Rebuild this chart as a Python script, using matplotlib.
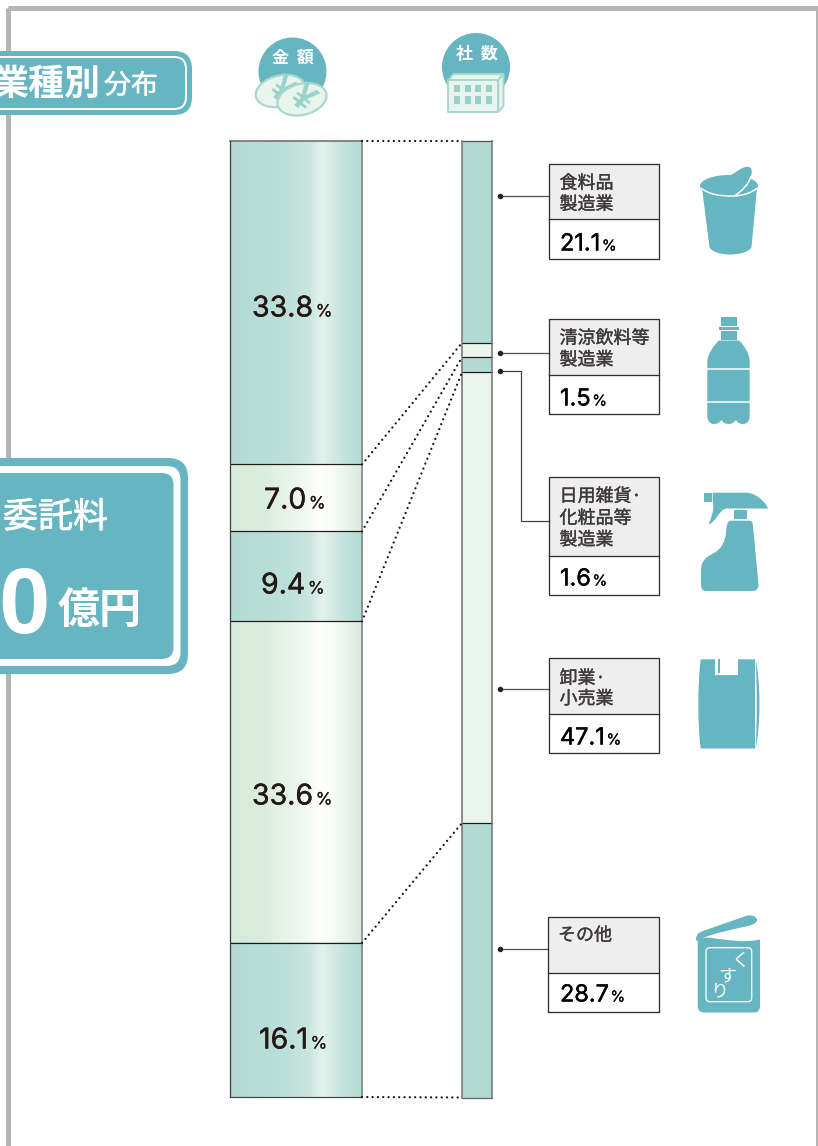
import matplotlib
matplotlib.use("Agg")
import matplotlib.pyplot as plt
import matplotlib.patheffects as pe
from matplotlib.colors import LinearSegmentedColormap
from matplotlib.patches import ConnectionPatch, Ellipse, FancyBboxPatch, PathPatch, Polygon, Rectangle
from matplotlib.path import Path
import numpy as np

# Share by amount (left column) and by number of companies (right column)
amount_shares = [33.8, 7.0, 9.4, 33.6, 16.1]
company_shares = [21.1, 1.5, 1.6, 47.1, 28.7]
categories = [["食料品", "製造業"], ["清涼飲料等", "製造業"], ["日用雑貨·", "化粧品等", "製造業"],
              ["卸業·", "小売業"], ["その他"]]

TEAL = "#67B5C1"
BAR_TEAL = "#B1DAD5"
BAR_PALE = "#EAF4EE"
COIN_EDGE = "#A5D8CE"
DARK = "#231815"
INK = "#3E3A39"
JP = "Noto Sans CJK JP"
LATIN = "Liberation Sans"
NUM = "Inter"
W, H = 818, 1146


def fs(px):
    return px * 72 / 100


fig = plt.figure(figsize=(W / 100, H / 100), dpi=100, facecolor="white")
bg = fig.add_axes([0, 0, 1, 1], zorder=1)
bg.set_xlim(0, W)
bg.set_ylim(H, 0)
bg.axis("off")
over = fig.add_axes([0, 0, 1, 1], zorder=5)
over.set_xlim(0, W)
over.set_ylim(H, 0)
over.axis("off")
over.patch.set_alpha(0)


def column_axes(x0, x1, y0, y1, total):
    a = fig.add_axes([x0 / W, 1 - y1 / H, (x1 - x0) / W, (y1 - y0) / H], zorder=3)
    a.set_xlim(0, 1)
    a.set_ylim(total, 0)
    a.axis("off")
    return a


def rbox(ax, x0, y0, x1, y1, r, **kw):
    ax.add_patch(FancyBboxPatch((x0, y0), x1 - x0, y1 - y0,
                                boxstyle=f"round,pad=0,rounding_size={r}", **kw))


def shape(ax, cmds, **kw):
    verts, codes = [], []
    for c in cmds:
        if c[0] == "M":
            verts.append(c[1]); codes.append(Path.MOVETO)
        elif c[0] == "L":
            verts.append(c[1]); codes.append(Path.LINETO)
        elif c[0] == "C":
            verts += [c[1], c[2], c[3]]; codes += [Path.CURVE4] * 3
    if kw.pop("closed", True):
        verts.append(verts[0]); codes.append(Path.CLOSEPOLY)
    ax.add_patch(PathPatch(Path(verts, codes), **kw))


def white_stroke(px):
    return [pe.withStroke(linewidth=fs(px), foreground="white")]


# Outer page frame
bg.add_patch(Rectangle((7.5, 8), 810, 1300, fc="none", ec="#B5B5B5", lw=fs(5), joinstyle="round"))

# Section heading tab
rbox(bg, -30, 51, 192, 115, 18, fc=TEAL, ec="none", zorder=2)
rbox(bg, -30, 57, 186, 109, 12, fc="none", ec="white", lw=fs(2), zorder=3)
bg.text(100, 84.5, "業種別", family=JP, weight="bold", size=fs(36), color="white", ha="right", va="center", zorder=4)
bg.text(104, 86, "分布", family=JP, size=fs(27), color="white", ha="left", va="center",
        path_effects=white_stroke(0.5), zorder=4)

# Total amount panel
rbox(bg, -30, 458, 188, 674, 20, fc=TEAL, ec="none", zorder=2)
rbox(bg, -30, 466, 180.5, 666, 14, fc="white", ec="none", zorder=3)
rbox(bg, -30, 473, 173.5, 659, 12, fc=TEAL, ec="none", zorder=4)
bg.text(108, 517.5, "委託料", family=JP, size=fs(35), color="white", ha="right", va="center",
        path_effects=white_stroke(0.7), zorder=5)
bg.text(51, 632.5, "00", family=LATIN, weight="bold", size=fs(92), color="white", ha="right", va="baseline", zorder=5)
bg.text(58, 610.5, "億円", family=JP, weight="bold", size=fs(42), color="white", ha="left", va="center", zorder=5)

# Amount icon: badge with two coins
bg.add_patch(Ellipse((292.5, 71.5), 68, 68, fc=TEAL, ec="none", zorder=2))
bg.text(292.5, 57.5, "金  額", family=JP, weight="bold", size=fs(17), color="white", ha="center", va="center", zorder=3)
for (cx, cy), z in (((280.3, 91), 4), ((302, 99.3), 6)):
    bg.add_patch(Ellipse((cx, cy), 50, 31, angle=-14, fc=BAR_PALE, ec=COIN_EDGE, lw=fs(2.2), zorder=z))
    bg.text(cx, cy, "¥", family=LATIN, weight="bold", size=fs(36), color="#9AD3C9", rotation=-40,
            ha="center", va="center", rotation_mode="anchor", zorder=z + 1)

# Company icon: badge with a building
bg.add_patch(Ellipse((476, 67), 68, 68, fc=TEAL, ec="none", zorder=2))
bg.text(476.5, 54, "社  数", family=JP, weight="bold", size=fs(17), color="white", ha="center", va="center", zorder=3)
building_style = dict(fc=BAR_PALE, ec=COIN_EDGE, lw=fs(2), joinstyle="round", zorder=4)
bg.add_patch(Polygon([(448.3, 80), (453.5, 74), (503.5, 74), (498.3, 80)], **building_style))
bg.add_patch(Polygon([(498.3, 80), (503.5, 74), (503.5, 106), (498.3, 111.7)], **building_style))
bg.add_patch(Rectangle((448.3, 80), 50, 31.7, **building_style))
for col in range(4):
    for row in range(2):
        bg.add_patch(Rectangle((454.3 + 10.5 * col, 84.5 + 11.7 * row), 5.8, 7.3, fc="#96D2C6", ec="none", zorder=5))

# Amount column
ax_amount = column_axes(229.5, 362, 141, 1097, sum(amount_shares))
teal_cmap = LinearSegmentedColormap.from_list(
    "teal", [(0, BAR_TEAL), (0.45, "#BEE0DA"), (0.6, "#CBE6DF"), (0.69, "#E3F2EC"), (0.82, "#CBE6DF"), (1, "#AEDAD4")])
green_cmap = LinearSegmentedColormap.from_list(
    "green", [(0, "#D7EBDB"), (0.25, "#DAEDDE"), (0.55, "#F0F8F2"), (0.68, "#FFFFFF"), (0.78, "#F6FBF6"), (1, "#D7EBDB")])
gradient = np.linspace(0, 1, 256)[None, :]
tops = np.concatenate([[0], np.cumsum(amount_shares)[:-1]])
for i, (top, value) in enumerate(zip(tops, amount_shares)):
    ax_amount.imshow(gradient, cmap=teal_cmap if i % 2 == 0 else green_cmap, aspect="auto",
                     extent=(0, 1, top + value, top), zorder=1)
ax_amount.set_xlim(0, 1)
ax_amount.set_ylim(sum(amount_shares), 0)
for edge in np.cumsum(amount_shares)[:-1]:
    ax_amount.axhline(edge, color=DARK, lw=fs(1.2), zorder=3)
ax_amount.axhline(0, color="#666666", lw=fs(1.5), zorder=3, clip_on=False)
ax_amount.axhline(sum(amount_shares), color="#444444", lw=fs(1.2), zorder=3, clip_on=False)
ax_amount.axvline(0, color="#3A3A3A", lw=fs(1.2), zorder=3, clip_on=False)
ax_amount.axvline(1, color="#7F7F7F", lw=fs(1.5), zorder=3, clip_on=False)

# Company column
ax_company = column_axes(462, 492, 141, 1097.5, sum(company_shares))
bottoms = np.concatenate([[0], np.cumsum(company_shares)[:-1]])
for i, (bottom, value) in enumerate(zip(bottoms, company_shares)):
    ax_company.bar(0.5, value, bottom=bottom, width=1, color=BAR_TEAL if i % 2 == 0 else BAR_PALE, zorder=1)
ax_company.set_xlim(0, 1)
ax_company.set_ylim(sum(company_shares), 0)
for edge in np.cumsum(company_shares)[:-1]:
    ax_company.axhline(edge, color=DARK, lw=fs(1.2), zorder=3, clip_on=False)
ax_company.axhline(0, color="#555555", lw=fs(1.3), zorder=3, clip_on=False)
ax_company.axhline(sum(company_shares), color="#666666", lw=fs(1.3), zorder=3, clip_on=False)
ax_company.axvline(0, color="#777777", lw=fs(1.6), zorder=3, clip_on=False)
ax_company.axvline(1, color="#777777", lw=fs(1.6), zorder=3, clip_on=False)

# Dotted links between matching category boundaries
amount_edges = np.concatenate([[0], np.cumsum(amount_shares)])
company_edges = np.concatenate([[0], np.cumsum(company_shares)])
for ya, yc in zip(amount_edges, company_edges):
    fig.add_artist(ConnectionPatch(xyA=(1, ya), coordsA=ax_amount.transData,
                                   xyB=(0, yc), coordsB=ax_company.transData,
                                   color="#1A1311", lw=fs(2.3), linestyle=(0, (0.01, 2.3)),
                                   capstyle="round", zorder=4))

renderer = fig.canvas.get_renderer()


def percent_label(x, baseline, value, size, small, gap, color, weight=0.4):
    t = over.text(x, baseline, f"{value:.1f}", family=NUM, size=fs(size), color=color, ha="left",
                  va="baseline", path_effects=[pe.withStroke(linewidth=fs(weight), foreground=color)])
    right = over.transData.inverted().transform(t.get_window_extent(renderer).p1)[0]
    over.text(right + gap, baseline, "%", family=NUM, size=fs(small), color=color, ha="left",
              va="baseline", path_effects=[pe.withStroke(linewidth=fs(0.2), foreground=color)])


# Percentage labels in the amount column
amount_label_x = [252, 264, 261, 252, 259]
amount_label_base = [316.5, 508.5, 593.5, 804.5, 1048.5]
for x, base, value in zip(amount_label_x, amount_label_base, amount_shares):
    percent_label(x, base, value, 28.5, 17, 2.5, DARK)

# Category boxes with leader lines
box_left = [549.3, 549.3, 549.3, 549.3, 547.8]
box_top = [163.7, 319.3, 477.3, 658, 916.7]
box_mid = [219.3, 375.3, 556, 713.7, 972.7]
box_bottom = [259, 414.3, 595.3, 753.3, 1011.7]
name_y = [[183.5, 204.5], [338.5, 360], [496.5, 518.5, 540], [678.5, 699], [935.5]]
value_base = [250.5, 405.5, 585.5, 744.5, 1001.5]
leader_y = [196, 352.5, 370.5, 688.5, 949]
BOX_RIGHT = 659.3

for i, value in enumerate(company_shares):
    l, t, m, b = box_left[i], box_top[i], box_mid[i], box_bottom[i]
    bg.add_patch(Rectangle((l, t), BOX_RIGHT - l, m - t, fc="#EEEEEE", ec="none", zorder=2))
    bg.add_patch(Rectangle((l, t), BOX_RIGHT - l, b - t, fc="none", ec="#332C2B", lw=fs(1.3), zorder=3))
    bg.plot([l, BOX_RIGHT], [m, m], color="#332C2B", lw=fs(1.3), zorder=3)
    for line, y in zip(categories[i], name_y[i]):
        bg.text(559.5 if i < 4 else 558, y, line, family=JP, size=fs(18), color=INK, ha="left", va="center",
                path_effects=[pe.withStroke(linewidth=fs(0.35), foreground=INK)], zorder=4)
    percent_label(560, value_base[i], value, 23.5, 15, 1.5, "#000000")

    bg.plot([500], [leader_y[i]], "o", color="#2B2220", ms=fs(5.5), mew=0, zorder=4)
    if i == 2:
        bg.plot([500, 520.7, 520.7, l], [leader_y[i], leader_y[i], 520.5, 520.5], color="#443C3A",
                lw=fs(1.2), solid_joinstyle="miter", zorder=2)
    else:
        bg.plot([500, l], [leader_y[i], leader_y[i]], color="#5A5250", lw=fs(1.3), zorder=2)

# Cup icon
shape(bg, [("M", (702, 188)), ("L", (709.5, 247)), ("C", (712, 252.5), (722, 254.5), (730, 254.5)),
           ("C", (738, 254.5), (749, 252.5), (751.5, 247)), ("L", (757, 188))], fc=TEAL, ec="none", zorder=2)
bg.add_patch(Ellipse((729, 186), 58, 22, fc=TEAL, ec="none", zorder=3))
shape(bg, [("M", (701, 188)), ("C", (708, 194), (720, 196.5), (733, 196)), ("C", (742, 196), (751, 193), (757.5, 188))],
      fc="none", ec="white", lw=fs(1.5), closed=False, zorder=5)
shape(bg, [("M", (724, 177)), ("C", (735, 176), (741, 165), (749, 167)), ("C", (754, 168), (751.5, 179), (747, 184)),
           ("C", (743, 189), (736, 193), (731, 195))], fc=TEAL, ec="none", zorder=4)
shape(bg, [("M", (751, 176)), ("C", (749, 184), (742, 191), (735, 195.5))], fc="none", ec="white", lw=fs(1.5),
      closed=False, zorder=5)

# Bottle icon
bg.add_patch(Rectangle((720.7, 316.7), 16, 9.5, fc=TEAL, ec="none", zorder=2))
bg.add_patch(Rectangle((718.7, 327), 20, 3.3, fc=TEAL, ec="none", zorder=2))
bg.add_patch(Rectangle((720.7, 330.5), 16, 9, fc=TEAL, ec="none", zorder=2))
shape(bg, [("M", (719, 340.5)), ("L", (739, 340.5)), ("C", (744, 345), (749.7, 354), (749.7, 362)),
           ("L", (749.7, 416)), ("C", (749.7, 421), (747, 424), (743, 424)),
           ("C", (739, 424), (737, 422), (736, 420)), ("C", (734, 423), (731, 424), (728.5, 424)),
           ("C", (726, 424), (723, 423), (721.5, 420)), ("C", (720, 422), (718, 424), (714, 424)),
           ("C", (710, 424), (707.3, 421), (707.3, 416)), ("L", (707.3, 362)),
           ("C", (707.3, 354), (714, 345), (719, 340.5))], fc=TEAL, ec="none", zorder=2)
for y in (369, 402):
    bg.plot([706, 751], [y, y], color="white", lw=fs(1.5), zorder=3)

# Spray bottle icon
bg.add_patch(Rectangle((703.7, 492.7), 8, 9.3, fc=TEAL, ec="none", zorder=2))
shape(bg, [("M", (712.7, 492.7)), ("L", (748, 492.7)), ("C", (756, 494), (765, 501), (768, 508.5)),
           ("L", (726, 508.5)), ("C", (719, 510), (716, 522), (708.5, 524.5)),
           ("C", (711, 518), (715, 510), (712.7, 502.5))], fc=TEAL, ec="none", zorder=2)
bg.add_patch(Rectangle((734, 510), 12.7, 9, fc=TEAL, ec="none", zorder=2))
shape(bg, [("M", (731, 520.7)), ("L", (750, 520.7)), ("C", (752, 521), (752.5, 522), (753, 526)),
           ("L", (758.5, 585)), ("C", (758.5, 589), (756, 591), (753, 591)), ("L", (706, 591)),
           ("C", (703, 591), (701, 589), (701, 585)), ("L", (701, 570)), ("C", (701, 560), (708, 556), (713, 553.5)),
           ("C", (722, 549), (725, 541), (726, 533)), ("C", (726.5, 526), (727, 521), (731, 520.7))],
      fc=TEAL, ec="none", zorder=2)

# Shopping bag icon
shape(bg, [("M", (700.7, 659.3)), ("L", (715, 659.3)), ("L", (715, 675)), ("L", (738, 675)), ("L", (738, 659.3)),
           ("L", (755, 659.3)), ("L", (755, 748.5)), ("L", (700.7, 748.5)),
           ("C", (697.5, 725), (697.5, 685), (700.7, 659.3))], fc=TEAL, ec="none", zorder=2)
shape(bg, [("M", (755.5, 659.3)), ("C", (760.8, 680), (760.8, 728), (755.5, 748.5)),
           ("C", (757.2, 728), (757.2, 680), (755.5, 659.3))], fc=TEAL, ec="none", zorder=2)
bg.plot([716.5, 715.5], [659.3, 675], color="white", lw=fs(1), zorder=3)
bg.add_patch(Rectangle((717.5, 659.3), 2.5, 14, fc=TEAL, ec="none", zorder=3))

# Medicine packet icon
shape(bg, [("M", (697.7, 940)), ("L", (697.7, 1006)), ("C", (697.7, 1010), (700, 1012.5), (704, 1012.5)),
           ("L", (754, 1012.5)), ("C", (758, 1012.5), (760, 1010), (760, 1006)), ("L", (760, 939.5)),
           ("C", (745, 943), (726, 940), (712, 938)), ("C", (706, 937), (700, 938), (697.7, 940))],
      fc=TEAL, ec="none", zorder=2)
shape(bg, [("M", (696, 940)), ("C", (696, 934), (699, 932.5), (703, 931)), ("L", (746, 916)),
           ("C", (752, 914), (757, 917), (757, 920)), ("C", (757, 923), (752, 925), (748, 926)),
           ("C", (730, 930), (715, 933), (703, 938)), ("L", (697, 941))], fc=TEAL, ec="none", zorder=2)
rbox(bg, 706, 947.7, 751.7, 1001.7, 4, fc="none", ec="white", lw=fs(1.3), zorder=3)
for ch, x, y in (("く", 741, 961), ("す", 727.5, 976), ("り", 719.5, 991)):
    bg.text(x, y, ch, family=JP, size=fs(18), color="white", ha="center", va="center", zorder=4)

fig.savefig("out.png", dpi=100, facecolor="white")
